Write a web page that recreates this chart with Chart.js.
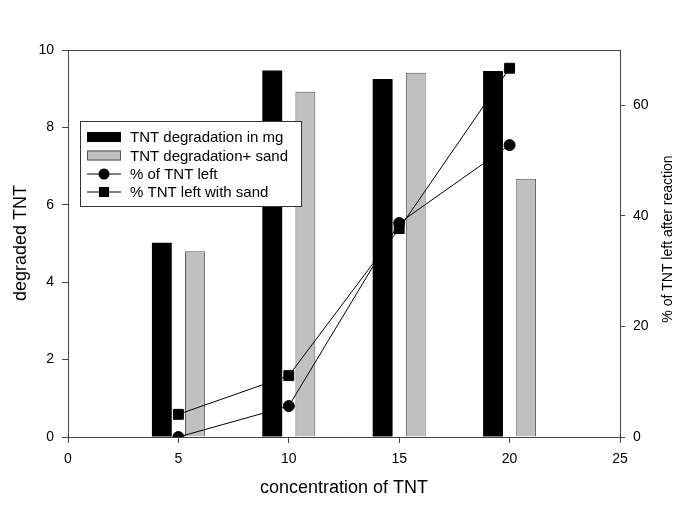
<!DOCTYPE html>
<html>
<head>
<meta charset="utf-8">
<script src="https://cdn.jsdelivr.net/npm/chart.js@4"></script>
<style>
html,body{margin:0;padding:0;background:#fff;}
#wrap{width:685px;height:513px;}
</style>
</head>
<body>
<div id="wrap"><canvas id="c" width="685" height="513"></canvas></div>
<script>
// ---- data ----
const concentrations = [5, 10, 15, 20];
const degradedMg = [5.02, 9.47, 9.25, 9.46];
const degradedSand = [4.80, 8.92, 9.41, 6.67];
const pctLeft = [0.0, 5.6, 38.7, 52.8];
const pctLeftSand = [4.1, 11.1, 37.7, 66.7];
const xTicks = [0, 5, 10, 15, 20, 25];
const yLeftTicks = [0, 2, 4, 6, 8, 10];
const yRightTicks = [0, 20, 40, 60];
const legendLabels = ['TNT degradation in mg', 'TNT degradation+ sand', '% of TNT left', '% TNT left with sand'];
const titles = {x: 'concentration of TNT', yLeft: 'degraded TNT', yRight: '% of TNT left after reaction'};

const FONT = 'Arial, "Liberation Sans", sans-serif';
const AXIS = '#444';

const pts = (xs, ys) => xs.map((x, i) => ({x: x, y: ys[i]}));

const overlay = {
  id: 'overlay',
  afterDatasetsDraw(chart) {
    const ctx = chart.ctx;
    const a = chart.chartArea;
    ctx.save();
    // top frame line
    ctx.strokeStyle = AXIS; ctx.lineWidth = 1;
    ctx.beginPath(); ctx.moveTo(a.left, a.top + 0.5); ctx.lineTo(a.right, a.top + 0.5); ctx.stroke();
    // legend box
    const bx = 80.5, by = 121.5, bw = 221, bh = 85;
    ctx.fillStyle = '#fff'; ctx.fillRect(bx, by, bw, bh);
    ctx.strokeStyle = '#333'; ctx.strokeRect(bx, by, bw, bh);
    const rows = [137, 155.5, 174, 192];
    ctx.font = '15px ' + FONT; ctx.textBaseline = 'middle'; ctx.fillStyle = '#000';
    const sx = 87, sw = 34;
    // bar symbols
    ctx.fillStyle = '#000'; ctx.fillRect(sx, rows[0] - 5, sw, 10);
    ctx.fillStyle = '#c0c0c0'; ctx.fillRect(sx, rows[1] - 5, sw, 10);
    ctx.strokeStyle = '#555'; ctx.strokeRect(sx + 0.5, rows[1] - 4.5, sw - 1, 9);
    // line symbols
    ctx.strokeStyle = '#000';
    [2, 3].forEach(i => { ctx.beginPath(); ctx.moveTo(sx, rows[i]); ctx.lineTo(sx + sw, rows[i]); ctx.stroke(); });
    ctx.fillStyle = '#000';
    ctx.beginPath(); ctx.arc(sx + sw / 2, rows[2], 5.5, 0, Math.PI * 2); ctx.fill();
    ctx.fillRect(sx + sw / 2 - 5, rows[3] - 5, 10, 10);
    legendLabels.forEach((t, i) => ctx.fillText(t, 130, rows[i] + 1));
    // axis titles
    ctx.fillStyle = '#000';
    ctx.textAlign = 'center';
    ctx.font = '18px ' + FONT;
    ctx.fillText(titles.x, 344, 488);
    ctx.save(); ctx.translate(21, 243); ctx.rotate(-Math.PI / 2); ctx.fillText(titles.yLeft, 0, 0); ctx.restore();
    ctx.font = '14px ' + FONT;
    ctx.save(); ctx.translate(668, 239); ctx.rotate(-Math.PI / 2); ctx.fillText(titles.yRight, 0, 0); ctx.restore();
    ctx.restore();
  }
};

new Chart(document.getElementById('c'), {
  type: 'bar',
  data: {
    datasets: [
      {type: 'bar', label: legendLabels[0], data: pts(concentrations, degradedMg), backgroundColor: '#000', borderColor: '#000', borderWidth: 0, yAxisID: 'y', order: 2, categoryPercentage: 0.6, barPercentage: 0.6},
      {type: 'bar', label: legendLabels[1], data: pts(concentrations, degradedSand), backgroundColor: '#c0c0c0', borderColor: '#555', borderWidth: 1, yAxisID: 'y', order: 2, categoryPercentage: 0.6, barPercentage: 0.6},
      {type: 'line', label: legendLabels[2], data: pts(concentrations, pctLeft), borderColor: '#000', borderWidth: 1, backgroundColor: '#000', pointStyle: 'circle', pointRadius: 5.5, tension: 0, yAxisID: 'y1', order: 0},
      {type: 'line', label: legendLabels[3], data: pts(concentrations, pctLeftSand), borderColor: '#000', borderWidth: 1, backgroundColor: '#000', pointStyle: 'rect', pointRadius: 7, tension: 0, yAxisID: 'y1', order: 1}
    ]
  },
  options: {
    responsive: false,
    animation: false,
    layout: {padding: {top: 50, left: 0, right: 0, bottom: 0}},
    plugins: {legend: {display: false}, tooltip: {enabled: false}},
    scales: {
      x: {
        type: 'linear', position: 'bottom', min: 0, max: 25, offset: false,
        afterBuildTicks: s => { s.ticks = xTicks.map(v => ({value: v})); },
        afterFit: s => { s.height = 76; },
        grid: {offset: false, drawOnChartArea: false, drawTicks: true, tickLength: 6, color: AXIS},
        border: {display: true, color: AXIS, width: 1},
        ticks: {font: {family: FONT, size: 14}, color: '#000', padding: 8, maxRotation: 0}
      },
      y: {
        type: 'linear', position: 'left', min: 0, max: 10,
        afterBuildTicks: s => { s.ticks = yLeftTicks.map(v => ({value: v})); },
        afterFit: s => { s.width = 68; },
        grid: {drawOnChartArea: false, drawTicks: true, tickLength: 6, color: AXIS},
        border: {display: true, color: AXIS, width: 1},
        ticks: {font: {family: FONT, size: 14}, color: '#000', padding: 8}
      },
      y1: {
        type: 'linear', position: 'right', min: 0, max: 70,
        afterBuildTicks: s => { s.ticks = yRightTicks.map(v => ({value: v})); },
        afterFit: s => { s.width = 65; },
        grid: {drawOnChartArea: false, drawTicks: true, tickLength: 5, color: AXIS},
        border: {display: true, color: AXIS, width: 1},
        ticks: {font: {family: FONT, size: 14}, color: '#000', padding: 8}
      }
    }
  },
  plugins: [overlay]
});
</script>
</body>
</html>
